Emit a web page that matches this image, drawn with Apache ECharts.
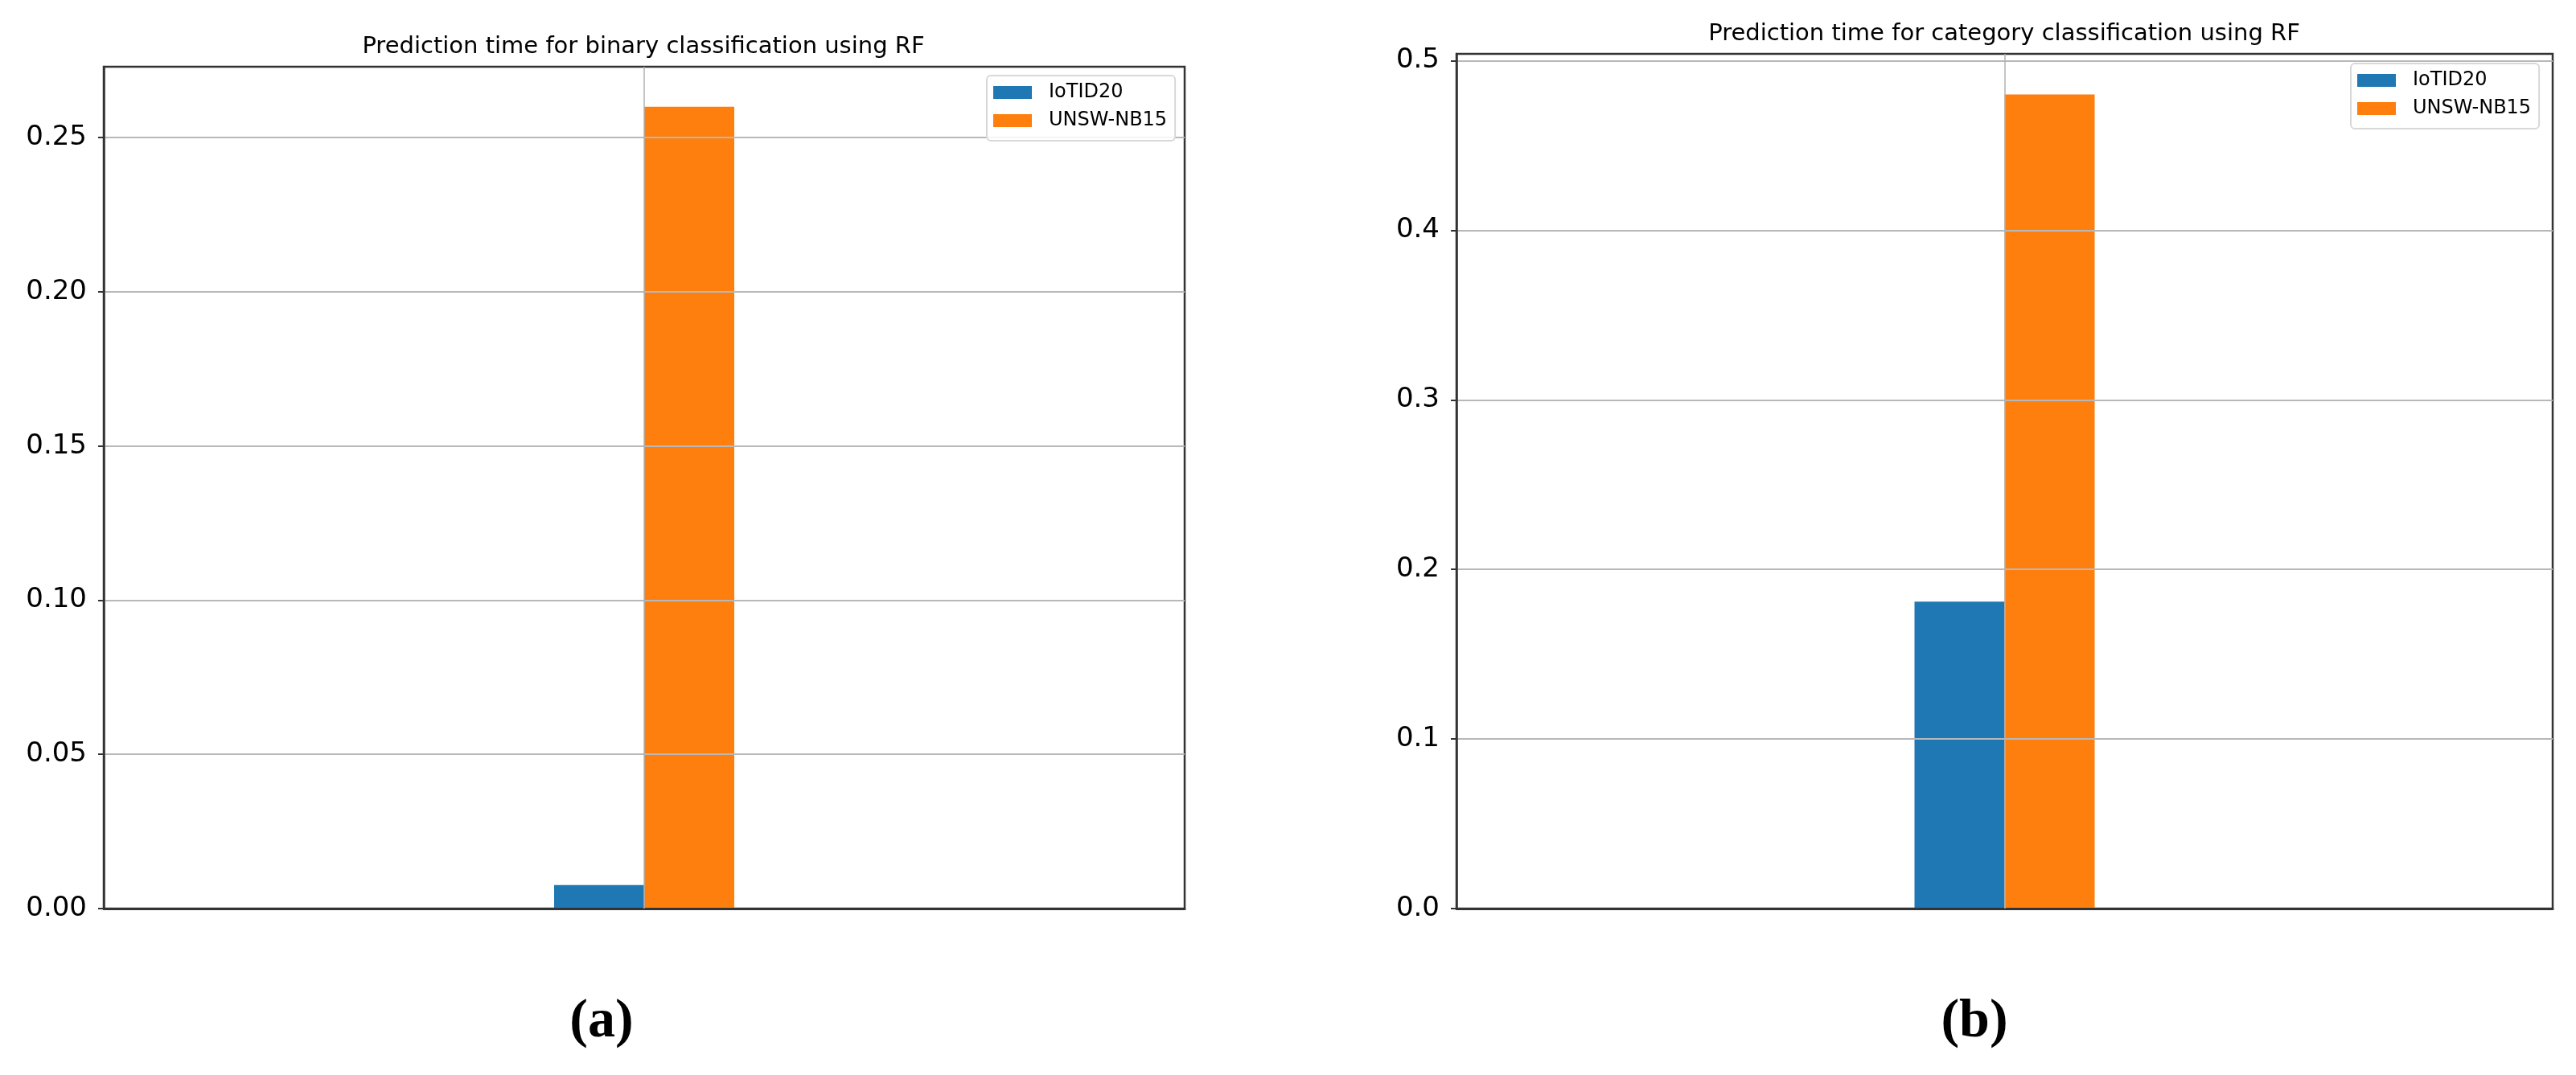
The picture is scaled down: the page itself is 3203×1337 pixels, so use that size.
<!DOCTYPE html>
<html lang="en">

<head>
    <meta charset="UTF-8">
    <title>Prediction time using RF</title>
    <style>
        * {
            margin: 0;
            padding: 0;
        }

        body {
            background: #fff;
        }

        #main {
            width: 3203px;
            height: 1337px;
        }
    </style>
</head>

<body>
    <div id="main"></div>
</body>
<script src="https://cdn.jsdelivr.net/npm/echarts@6/dist/echarts.min.js"></script>
<script>
    // values
    let categories = ['RF'];
    let seriesNames = ['IoTID20', 'UNSW-NB15'];
    let binaryTime = [0.0076, 0.26];
    let categoryTime = [0.181, 0.48];
    let binaryTicks = ['0.00', '0.05', '0.10', '0.15', '0.20', '0.25'];
    let categoryTicks = ['0.0', '0.1', '0.2', '0.3', '0.4', '0.5'];
    let colors = ['#1f77b4', '#ff7f0e'];

    let font = 'DejaVu Sans';

    let panels = [
        {
            title: 'Prediction time for binary classification using RF',
            values: binaryTime,
            ticks: binaryTicks,
            step: 0.05,
            max: 0.273,
            grid: { left: 129, top: 83, width: 1344, height: 1047 },
            titlePos: { left: 800, top: 44 },
            legendPos: { left: 1227, top: 94 },
            sub: 'a',
            subLeft: 748
        },
        {
            title: 'Prediction time for category classification using RF',
            values: categoryTime,
            ticks: categoryTicks,
            step: 0.1,
            max: 0.504,
            grid: { left: 1811, top: 67, width: 1363, height: 1063 },
            titlePos: { left: 2492, top: 28 },
            legendPos: { left: 2923, top: 79 },
            sub: 'b',
            subLeft: 2455
        }
    ];

    let grids = [], xAxes = [], yAxes = [], series = [], titles = [], legends = [];

    panels.forEach((p, i) => {
        let tickValues = p.ticks.map(t => parseFloat(t));

        grids.push(Object.assign({
            show: true,
            borderColor: '#333',
            borderWidth: 2.5,
            backgroundColor: 'transparent'
        }, p.grid));

        xAxes.push({
            type: 'category',
            gridIndex: i,
            data: categories,
            z: 3,
            axisLine: { lineStyle: { color: '#333', width: 3 } },
            axisTick: { alignWithLabel: true, length: 10, lineStyle: { color: '#333', width: 2 } },
            axisLabel: { show: false },
            splitLine: { show: false }
        });

        yAxes.push({
            type: 'value',
            gridIndex: i,
            min: 0,
            max: p.max,
            interval: p.step,
            z: 3,
            axisLine: { show: true, lineStyle: { color: '#333', width: 2.5 } },
            axisTick: { show: true, length: 7, customValues: tickValues, lineStyle: { color: '#333', width: 2 } },
            axisLabel: {
                margin: 21,
                color: '#000',
                fontFamily: font,
                fontSize: 34,
                customValues: tickValues,
                formatter: v => {
                    let k = Math.round(v / p.step);
                    if (Math.abs(v - k * p.step) > 1e-6) return '';
                    return p.ticks[k] || '';
                }
            },
            splitLine: { show: true, lineStyle: { color: '#b8b8b8', width: 2 } }
        });

        seriesNames.forEach((name, j) => {
            series.push({
                type: 'bar',
                name: name,
                xAxisIndex: i,
                yAxisIndex: i,
                data: [p.values[j]],
                barWidth: 112,
                barGap: '0%',
                itemStyle: { color: colors[j] }
            });
        });

        // vertical grid line at the category tick
        series.push({
            type: 'line',
            name: 'xgrid' + i,
            xAxisIndex: i,
            yAxisIndex: i,
            data: [],
            silent: true,
            markLine: {
                silent: true,
                symbol: 'none',
                label: { show: false },
                lineStyle: { color: '#b0b0b0', width: 1.5, type: 'solid' },
                data: [{ xAxis: categories[0] }]
            }
        });

        titles.push({
            text: p.title,
            left: p.titlePos.left,
            top: p.titlePos.top,
            textAlign: 'center',
            padding: 0,
            textStyle: { fontFamily: font, fontSize: 29, fontWeight: 'normal', color: '#000' }
        });
        titles.push({
            text: '{p|(}{b|' + p.sub + '}{p|)}',
            left: p.subLeft,
            top: 1237,
            textAlign: 'center',
            padding: 0,
            textStyle: {
                rich: {
                    p: { fontFamily: 'Liberation Serif', fontSize: 68, color: '#000' },
                    b: { fontFamily: 'Liberation Serif', fontSize: 68, fontWeight: 'bold', color: '#000' }
                }
            }
        });

        legends.push({
            left: p.legendPos.left,
            top: p.legendPos.top,
            orient: 'vertical',
            data: seriesNames,
            icon: 'rect',
            itemWidth: 48,
            itemHeight: 16,
            itemGap: 11,
            padding: [9, 10, 13, 8],
            borderColor: '#d8d8d8',
            borderWidth: 2,
            borderRadius: 5,
            backgroundColor: 'rgba(255,255,255,0.85)',
            textStyle: { fontFamily: font, fontSize: 24, color: '#000', padding: [0, 0, 0, 16] }
        });
    });

    let option = {
        backgroundColor: '#fff',
        animation: false,
        title: titles,
        legend: legends,
        grid: grids,
        xAxis: xAxes,
        yAxis: yAxes,
        series: series
    };

    initChart(option);

    function initChart(option) {
        let myCharts = echarts.init(document.getElementById('main'));
        myCharts.setOption(option);
        window.addEventListener('resize', () => {
            myCharts.resize();
        });
    }
</script>

</html>
